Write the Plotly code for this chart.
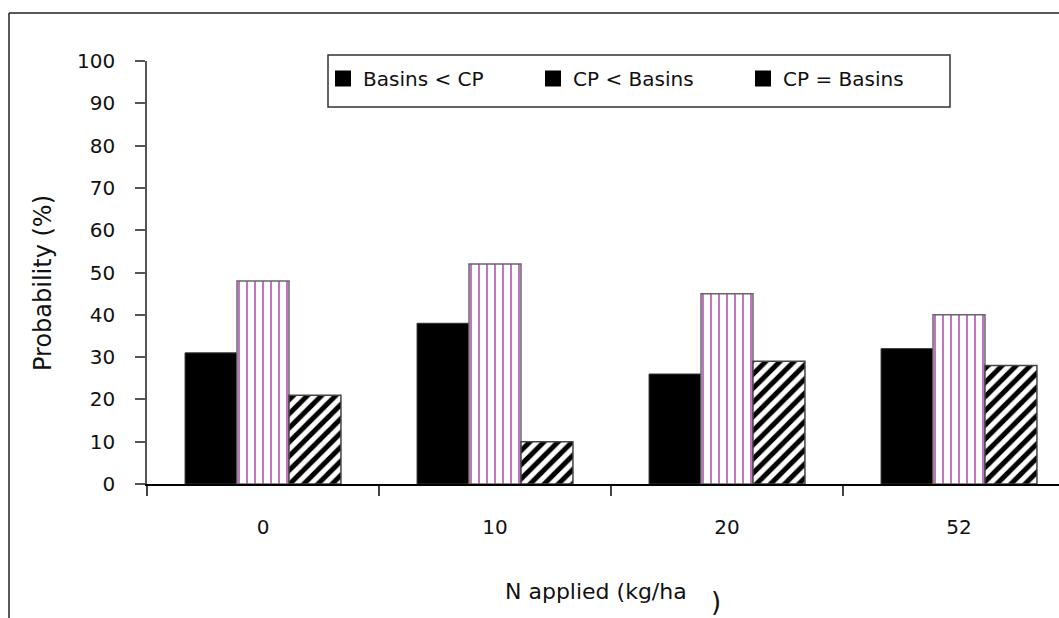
import plotly.graph_objects as go

categories = ["0", "10", "20", "52"]
series_names = ["Basins < CP", "CP < Basins", "CP = Basins"]
basins_lt_cp = [31, 38, 26, 32]
cp_lt_basins = [48, 52, 45, 40]
cp_eq_basins = [21, 10, 29, 28]
y_ticks = [0, 10, 20, 30, 40, 50, 60, 70, 80, 90, 100]

W, H = 1059, 618
L, R, T, B = 147, 0, 61, 134
PW, PH = W - L - R, H - T - B

def px(x):
    return (x - L) / PW

def py(y):
    return (H - B - y) / PH

FONT = "DejaVu Sans, Verdana, sans-serif"

fig = go.Figure()
fig.add_trace(go.Bar(
    x=categories, y=basins_lt_cp, name=series_names[0], showlegend=False,
    marker=dict(color="black", line=dict(color="#333333", width=1)),
))
fig.add_trace(go.Bar(
    x=categories, y=cp_lt_basins, name=series_names[1], showlegend=False,
    marker=dict(color="white", line=dict(color="#666666", width=1.5),
                pattern=dict(shape="|", fgcolor="#9a1f9a", bgcolor="white",
                             size=8, solidity=0.22, fgopacity=0.7)),
))
fig.add_trace(go.Bar(
    x=categories, y=cp_eq_basins, name=series_names[2], showlegend=False,
    marker=dict(color="white", line=dict(color="#444444", width=1.5),
                pattern=dict(shape="/", fgcolor="black", bgcolor="white",
                             size=10, solidity=0.5, fgopacity=1)),
))
# legend entries (solid black squares as in the reference)
for nm in series_names:
    fig.add_trace(go.Scatter(
        x=[None], y=[None], mode="markers", name=nm,
        marker=dict(symbol="square", color="black", size=16),
    ))

fig.update_layout(
    width=W, height=H,
    margin=dict(l=L, r=R, t=T, b=B, pad=0),
    paper_bgcolor="white", plot_bgcolor="white",
    barmode="group", bargap=0.328, bargroupgap=0,
    font=dict(family=FONT, size=20, color="#111111"),
    showlegend=True,
    legend=dict(
        orientation="h", x=px(323), xanchor="left", y=py(59), yanchor="top",
        bgcolor="rgba(0,0,0,0)", borderwidth=0,
        entrywidth=165, entrywidthmode="pixels",
        font=dict(family=FONT, size=20, color="#111111"),
    ),
    xaxis=dict(
        type="category", range=[-0.5, -0.5 + PW / 232.0],
        showline=True, linecolor="black", linewidth=1.5,
        ticks="outside", ticklen=10, tickcolor="#444444", tickwidth=1.5,
        tickson="boundaries", showgrid=False, zeroline=False,
        ticklabelstandoff=24,
        tickfont=dict(family=FONT, size=20, color="#111111"),
    ),
    yaxis=dict(
        range=[0, 100], tickvals=y_ticks,
        showline=True, linecolor="#555555", linewidth=1.5,
        ticks="outside", ticklen=10, tickcolor="#555555", tickwidth=1.5,
        showgrid=False, zeroline=False,
        ticklabelstandoff=16,
        tickfont=dict(family=FONT, size=20, color="#111111"),
    ),
    shapes=[
        # outer frame (left and top edges visible)
        dict(type="line", xref="paper", yref="paper",
             x0=px(9), x1=px(9), y0=py(640), y1=py(13),
             line=dict(color="#222222", width=1.5)),
        dict(type="line", xref="paper", yref="paper",
             x0=px(9), x1=px(1070), y0=py(13), y1=py(13),
             line=dict(color="#222222", width=1.5)),
        # legend box
        dict(type="rect", xref="paper", yref="paper",
             x0=px(328), x1=px(950), y0=py(107), y1=py(55),
             line=dict(color="#333333", width=1.5), fillcolor="white",
             layer="below"),
    ],
    annotations=[
        dict(text="Probability (%)", textangle=-90, xref="paper", yref="paper",
             x=px(43), y=py(283), xanchor="center", yanchor="middle",
             showarrow=False, font=dict(family=FONT, size=24, color="#111111")),
        dict(text="N applied (kg/ha", xref="paper", yref="paper",
             x=px(596), y=py(591), xanchor="center", yanchor="middle",
             showarrow=False, font=dict(family=FONT, size=22, color="#111111")),
        dict(text=")", xref="paper", yref="paper",
             x=px(716), y=py(602), xanchor="center", yanchor="middle",
             showarrow=False, font=dict(family=FONT, size=26, color="#111111")),
    ],
)

fig.write_html("out.html")
